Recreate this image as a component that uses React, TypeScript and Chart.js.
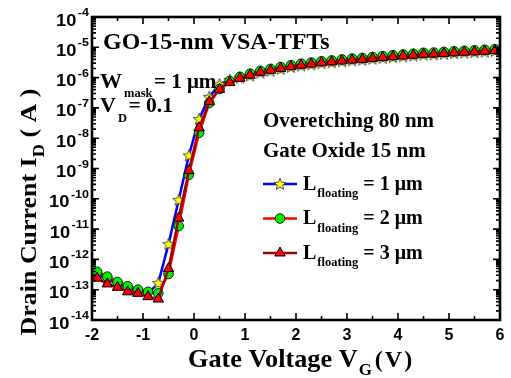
import React, { useEffect, useRef } from 'react';
import { Chart, registerables } from 'chart.js';

Chart.register(...registerables);

// ---------------- data ----------------
const gateVoltage = [
  -2.0, -1.9, -1.7, -1.5, -1.3, -1.1, -0.9, -0.7, -0.5, -0.3, -0.1,
  0.1, 0.3, 0.5, 0.7, 0.9, 1.1, 1.3, 1.5, 1.7, 1.9,
  2.1, 2.3, 2.5, 2.7, 2.9, 3.1, 3.3, 3.5, 3.7, 3.9,
  4.1, 4.3, 4.5, 4.7, 4.9, 5.1, 5.3, 5.5, 5.7, 5.9,
];

// L_floating = 1 um (blue line, yellow stars)
const drainCurrentL1 = [
  3.5e-13, 3.2e-13, 2.2e-13, 1.6e-13, 1.1e-13, 9.3e-14, 7.6e-14, 1.66e-13, 3.2e-12, 9.1e-11, 2.7e-9,
  4.3e-8, 2.3e-7, 6.0e-7, 8.3e-7, 1.0e-6, 1.17e-6, 1.46e-6, 1.69e-6, 1.94e-6, 2.23e-6,
  2.5e-6, 2.72e-6, 3.0e-6, 3.2e-6, 3.44e-6, 3.69e-6, 3.88e-6, 4.17e-6, 4.46e-6, 4.75e-6,
  5.04e-6, 5.33e-6, 5.72e-6, 5.82e-6, 6.11e-6, 6.4e-6, 6.69e-6, 6.89e-6, 7.18e-6, 7.57e-6,
];

// L_floating = 2 um (red line, green circles)
const drainCurrentL2 = [
  4.2e-13, 3.9e-13, 2.7e-13, 1.8e-13, 1.3e-13, 1.0e-13, 8.5e-14, 7.6e-14, 3.3e-13, 1.26e-11, 6.2e-10,
  1.5e-8, 1.45e-7, 4.2e-7, 7.7e-7, 1.06e-6, 1.35e-6, 1.68e-6, 1.95e-6, 2.24e-6, 2.57e-6,
  2.88e-6, 3.14e-6, 3.47e-6, 3.7e-6, 3.98e-6, 4.26e-6, 4.48e-6, 4.8e-6, 5.15e-6, 5.5e-6,
  5.8e-6, 6.16e-6, 6.6e-6, 6.7e-6, 7.06e-6, 7.4e-6, 7.7e-6, 7.95e-6, 8.3e-6, 8.7e-6,
];

// L_floating = 3 um (dark red line, red triangles)
const drainCurrentL3 = [
  2.6e-13, 2.4e-13, 1.55e-13, 1.2e-13, 8.5e-14, 7.6e-14, 5.9e-14, 4.9e-14, 5.0e-13, 2.3e-11, 8.5e-10,
  2.2e-8, 1.6e-7, 4.1e-7, 6.9e-7, 9.5e-7, 1.2e-6, 1.5e-6, 1.74e-6, 2.0e-6, 2.3e-6,
  2.57e-6, 2.8e-6, 3.1e-6, 3.3e-6, 3.55e-6, 3.8e-6, 4.0e-6, 4.3e-6, 4.6e-6, 4.9e-6,
  5.2e-6, 5.5e-6, 5.9e-6, 6.0e-6, 6.3e-6, 6.6e-6, 6.9e-6, 7.1e-6, 7.4e-6, 7.8e-6,
];

const xTickValues = [-2, -1, 0, 1, 2, 3, 4, 5, 6];
const xMinorTickValues = [-1.5, -0.5, 0.5, 1.5, 2.5, 3.5, 4.5, 5.5];
const yTickExponents = [-14, -13, -12, -11, -10, -9, -8, -7, -6, -5, -4];
const floatingLengths = ['1', '2', '3'];

const titleText = 'GO-15-nm VSA-TFTs';
const noteLines = ['Overetching 80 nm', 'Gate Oxide 15 nm'];

const SERIF = '"Liberation Serif", "Times New Roman", Times, serif';
const SANS = '"Liberation Sans", Arial, Helvetica, sans-serif';

type Run = { t: string; size: number; dy?: number; dx?: number };

function runsWidth(ctx: CanvasRenderingContext2D, runs: Run[], family: string, sx = 1) {
  let w = 0;
  for (const r of runs) {
    ctx.font = `bold ${r.size}px ${family}`;
    w += (r.dx || 0) + ctx.measureText(r.t).width * sx;
  }
  return w;
}

function drawRuns(ctx: CanvasRenderingContext2D, x: number, y: number, runs: Run[], family: string, sx = 1) {
  let cx = x;
  ctx.textAlign = 'left';
  ctx.textBaseline = 'alphabetic';
  for (const r of runs) {
    ctx.font = `bold ${r.size}px ${family}`;
    cx += r.dx || 0;
    ctx.save();
    ctx.translate(cx, y + (r.dy || 0));
    ctx.scale(sx, 1);
    ctx.fillText(r.t, 0, 0);
    ctx.restore();
    cx += ctx.measureText(r.t).width * sx;
  }
  return cx - x;
}

function makeStar(): HTMLCanvasElement {
  const c = document.createElement('canvas');
  c.width = 14;
  c.height = 14;
  const g = c.getContext('2d')!;
  const cx = 7, cy = 7.4, ro = 6.3, ri = 2.7;
  g.beginPath();
  for (let i = 0; i < 10; i++) {
    const r = i % 2 === 0 ? ro : ri;
    const a = -Math.PI / 2 + (i * Math.PI) / 5;
    const px = cx + r * Math.cos(a);
    const py = cy + r * Math.sin(a);
    if (i === 0) g.moveTo(px, py);
    else g.lineTo(px, py);
  }
  g.closePath();
  g.fillStyle = '#ffff00';
  g.fill();
  g.lineWidth = 0.9;
  g.strokeStyle = '#404040';
  g.stroke();
  return c;
}

function drawTriangle(ctx: CanvasRenderingContext2D, x: number, y: number, r: number) {
  ctx.beginPath();
  let rad = 0;
  ctx.moveTo(x + Math.sin(rad) * r, y - Math.cos(rad) * r);
  rad += (2 * Math.PI) / 3;
  ctx.lineTo(x + Math.sin(rad) * r, y - Math.cos(rad) * r);
  rad += (2 * Math.PI) / 3;
  ctx.lineTo(x + Math.sin(rad) * r, y - Math.cos(rad) * r);
  ctx.closePath();
  ctx.fill();
  ctx.stroke();
}

export default function App() {
  const ref = useRef<HTMLCanvasElement>(null);

  useEffect(() => {
    const canvas = ref.current!;
    const star = makeStar();
    const hideFirst = (r: number) => (c: any) => (c.dataIndex === 0 ? 0 : r);

    const decor = {
      id: 'decor',
      afterDatasetsDraw(chart: any) {
        const ctx: CanvasRenderingContext2D = chart.ctx;
        const { left, top, right, bottom } = chart.chartArea;
        const xs = chart.scales.x;
        const ys = chart.scales.y;
        ctx.save();
        ctx.fillStyle = '#000';
        ctx.strokeStyle = '#000';

        // ticks
        ctx.lineWidth = 1.6;
        ctx.beginPath();
        for (const v of xTickValues) {
          const px = xs.getPixelForValue(v);
          ctx.moveTo(px, bottom); ctx.lineTo(px, bottom - 7);
          ctx.moveTo(px, top); ctx.lineTo(px, top + 7);
        }
        for (const v of xMinorTickValues) {
          const px = xs.getPixelForValue(v);
          ctx.moveTo(px, bottom); ctx.lineTo(px, bottom - 4);
          ctx.moveTo(px, top); ctx.lineTo(px, top + 4);
        }
        for (const e of yTickExponents) {
          const py = ys.getPixelForValue(Math.pow(10, e));
          ctx.moveTo(left, py); ctx.lineTo(left + 7, py);
          ctx.moveTo(right, py); ctx.lineTo(right - 7, py);
          if (e < -4) {
            for (let m = 2; m <= 9; m++) {
              const pm = ys.getPixelForValue(m * Math.pow(10, e));
              ctx.moveTo(left, pm); ctx.lineTo(left + 4, pm);
              ctx.moveTo(right, pm); ctx.lineTo(right - 4, pm);
            }
          }
        }
        ctx.stroke();

        // frame
        ctx.lineWidth = 2.6;
        ctx.strokeRect(left, top, right - left, bottom - top);

        // x tick labels
        ctx.font = `bold 16px ${SANS}`;
        ctx.textAlign = 'center';
        ctx.textBaseline = 'alphabetic';
        for (const v of xTickValues) {
          ctx.fillText(String(v), xs.getPixelForValue(v), bottom + 20);
        }

        // y tick labels 10^e
        for (const e of yTickExponents) {
          const py = ys.getPixelForValue(Math.pow(10, e));
          const runs: Run[] = [
            { t: '10', size: 16, dy: 8.5 },
            { t: String(e), size: 11, dy: -1, dx: 1.5 },
          ];
          const w = runsWidth(ctx, runs, SANS, 1.14);
          drawRuns(ctx, 89 - w, py, runs, SANS, 1.14);
        }

        // x axis title
        const xw = drawRuns(ctx, 188, 367, [
          { t: 'Gate Voltage V', size: 25 },
        ], SERIF, 1.05);
        const xw2 = drawRuns(ctx, 188 + xw + 1, 375, [{ t: 'G', size: 17 }], SERIF);
        drawRuns(ctx, 188 + xw + 1 + xw2 + 3, 367, [
          { t: '(', size: 24 },
          { t: 'V', size: 24, dx: 2 },
          { t: ')', size: 24, dx: 2 },
        ], SERIF);

        // y axis title
        const yt: Run[] = [
          { t: 'Drain Current I', size: 24 },
          { t: 'D', size: 17, dy: 8 },
          { t: ' ( A )', size: 24 },
        ];
        const ytw = runsWidth(ctx, yt, SERIF, 1.08);
        ctx.save();
        ctx.translate(36, 212);
        ctx.rotate(-Math.PI / 2);
        drawRuns(ctx, -ytw / 2, 0, yt, SERIF, 1.08);
        ctx.restore();

        // in-plot annotations
        drawRuns(ctx, 103, 49, [{ t: titleText, size: 24 }], SERIF);
        drawRuns(ctx, 100, 87.5, [
          { t: 'W', size: 22 },
          { t: 'mask', size: 12.5, dy: 9, dx: 2 },
          { t: '= 1 \u03bcm', size: 21, dx: 1.5 },
        ], SERIF);
        drawRuns(ctx, 100, 111.5, [
          { t: 'V', size: 22 },
          { t: 'D', size: 12.5, dy: 10, dx: 2 },
          { t: '= 0.1', size: 21.5, dx: 1.5 },
        ], SERIF);
        drawRuns(ctx, 263, 127, [{ t: noteLines[0], size: 21 }], SERIF);
        drawRuns(ctx, 263, 157, [{ t: noteLines[1], size: 21 }], SERIF);

        // legend
        const legendY = [184, 218.5, 253];
        const lineColors = ['#0000ff', '#ff0000', '#a00000'];
        for (let i = 0; i < 3; i++) {
          const ly = legendY[i];
          ctx.strokeStyle = lineColors[i];
          ctx.lineWidth = 2.5;
          ctx.beginPath();
          ctx.moveTo(263, ly);
          ctx.lineTo(297, ly);
          ctx.stroke();
          if (i === 0) {
            ctx.drawImage(star, 280 - star.width / 2, ly - star.height / 2);
          } else if (i === 1) {
            ctx.fillStyle = '#00ee00';
            ctx.strokeStyle = '#003300';
            ctx.lineWidth = 1;
            ctx.beginPath();
            ctx.arc(280, ly, 4.8, 0, Math.PI * 2);
            ctx.fill();
            ctx.stroke();
          } else {
            ctx.fillStyle = '#ff0000';
            ctx.strokeStyle = '#000';
            ctx.lineWidth = 1;
            drawTriangle(ctx, 280, ly, 6);
          }
          ctx.fillStyle = '#000';
          drawRuns(ctx, 303, ly + 5.5, [
            { t: 'L', size: 20 },
            { t: 'floating', size: 12.5, dy: 7.5, dx: 1 },
            { t: ' = ' + floatingLengths[i] + ' \u03bcm', size: 20 },
          ], SERIF);
        }
        ctx.restore();
      },
    };

    const chart = new Chart(canvas, {
      type: 'line',
      data: {
        datasets: [
          {
            label: 'L3',
            data: gateVoltage.map((x, i) => ({ x, y: drainCurrentL3[i] })),
            borderColor: '#a00000',
            borderWidth: 2.5,
            pointStyle: 'triangle',
            pointRadius: hideFirst(6) as any,
            pointBackgroundColor: '#ff0000',
            pointBorderColor: '#000000',
            pointBorderWidth: 1,
            tension: 0,
            order: 1,
          },
          {
            label: 'L2',
            data: gateVoltage.map((x, i) => ({ x, y: drainCurrentL2[i] })),
            borderColor: '#ff0000',
            borderWidth: 2.5,
            pointStyle: 'circle',
            pointRadius: hideFirst(4.8) as any,
            pointBackgroundColor: '#00ee00',
            pointBorderColor: '#003300',
            pointBorderWidth: 1,
            tension: 0,
            order: 2,
          },
          {
            label: 'L1',
            data: gateVoltage.map((x, i) => ({ x, y: drainCurrentL1[i] })),
            borderColor: '#0000ff',
            borderWidth: 2.5,
            pointStyle: star as any,
            pointRadius: hideFirst(6) as any,
            tension: 0,
            order: 3,
          },
        ],
      },
      options: {
        responsive: false,
        maintainAspectRatio: false,
        devicePixelRatio: 1,
        animation: false,
        layout: { padding: { left: 92, top: 17, right: 11, bottom: 58 } },
        scales: {
          x: { type: 'linear', min: -2, max: 6, display: false },
          y: { type: 'logarithmic', min: 1e-14, max: 1e-4, display: false },
        },
        plugins: {
          legend: { display: false },
          tooltip: { enabled: false },
        },
        events: [],
      },
      plugins: [decor],
    });
    return () => chart.destroy();
  }, []);

  return (
    <div style={{ position: 'absolute', left: 0, top: 0, width: 511, height: 378, background: '#fff' }}>
      <canvas ref={ref} width={511} height={378} style={{ display: 'block', width: 511, height: 378 }} />
    </div>
  );
}
